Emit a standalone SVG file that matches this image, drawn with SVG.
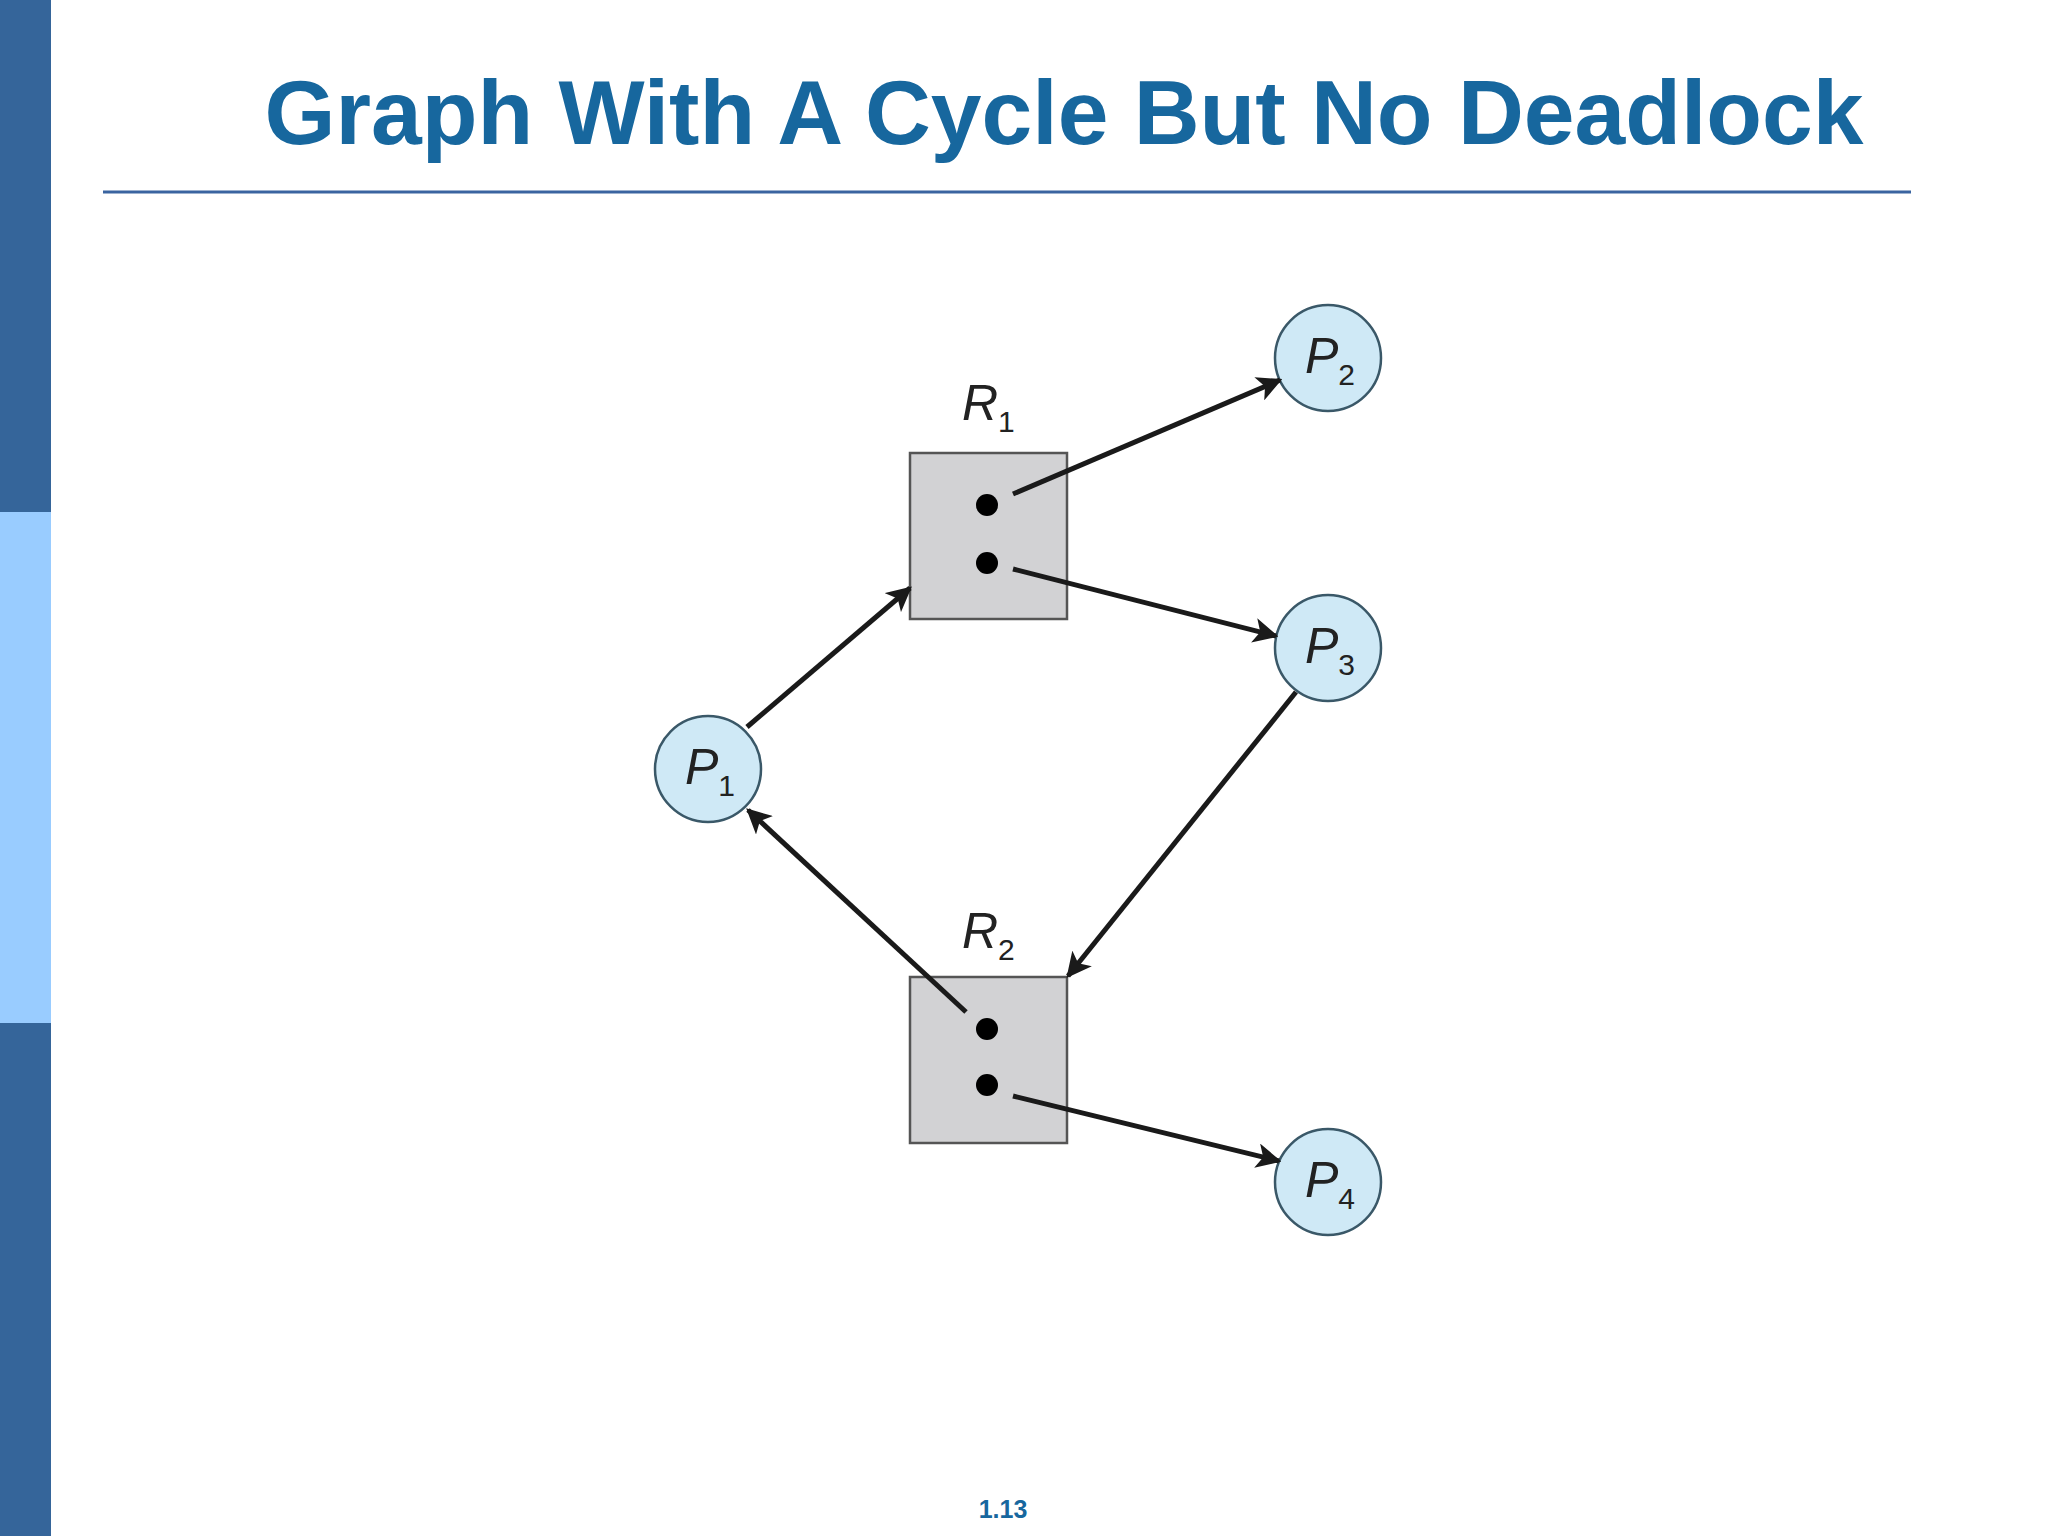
<svg xmlns="http://www.w3.org/2000/svg" width="2048" height="1536" viewBox="0 0 2048 1536">
<style>
.p{fill:#cfe9f6;stroke:#3a5868;stroke-width:2.5}
.r{fill:#d2d2d4;stroke:#555;stroke-width:2.5}
.lbl{font-family:"Liberation Sans",Arial,sans-serif;font-style:italic;font-size:50px;fill:#222}
.sub{font-size:30px;font-style:normal}
.e{stroke:#1a1a1a;stroke-width:5;fill:none;marker-end:url(#a)}
</style>
<defs><marker id="a" viewBox="0 0 10 10" refX="9" refY="5" markerWidth="5" markerHeight="5" orient="auto" markerUnits="strokeWidth"><path d="M0,0L10,5L0,10L2.5,5z" fill="#1a1a1a"/></marker></defs>
<rect width="2048" height="1536" fill="#fff"/>
<rect x="0" y="0" width="51" height="512" fill="#35659a"/>
<rect x="0" y="512" width="51" height="511" fill="#99ccff"/>
<rect x="0" y="1023" width="51" height="513" fill="#35659a"/>
<text x="1064" y="144" text-anchor="middle" font-family="Liberation Sans,Arial,sans-serif" font-weight="bold" font-size="90" textLength="1599" lengthAdjust="spacingAndGlyphs" fill="#17679e">Graph With A Cycle But No Deadlock</text>
<line x1="103" y1="192" x2="1911" y2="192" stroke="#3a64a0" stroke-width="3"/>
<g id="R1"><rect class="r" x="910" y="453" width="157" height="166"/><circle cx="987" cy="505" r="11"/><circle cx="987" cy="563" r="11"/><text class="lbl" x="962" y="420">R<tspan class="sub" dy="12">1</tspan></text></g>
<g id="R2"><rect class="r" x="910" y="977" width="157" height="166"/><circle cx="987" cy="1029" r="11"/><circle cx="987" cy="1085" r="11"/><text class="lbl" x="962" y="948">R<tspan class="sub" dy="12">2</tspan></text></g>
<g id="P1"><circle class="p" cx="708" cy="769" r="53"/><text class="lbl" x="685" y="784">P<tspan class="sub" dy="12">1</tspan></text></g>
<g id="P2"><circle class="p" cx="1328" cy="358" r="53"/><text class="lbl" x="1305" y="373">P<tspan class="sub" dy="12">2</tspan></text></g>
<g id="P3"><circle class="p" cx="1328" cy="648" r="53"/><text class="lbl" x="1305" y="663">P<tspan class="sub" dy="12">3</tspan></text></g>
<g id="P4"><circle class="p" cx="1328" cy="1182" r="53"/><text class="lbl" x="1305" y="1197">P<tspan class="sub" dy="12">4</tspan></text></g>
<g id="edges">
<line class="e" x1="1013" y1="494" x2="1280" y2="380"/>
<line class="e" x1="1013" y1="569" x2="1276" y2="636"/>
<line class="e" x1="747" y1="727" x2="910" y2="588"/>
<line class="e" x1="1296" y1="692" x2="1068" y2="976"/>
<line class="e" x1="966" y1="1012" x2="748" y2="810"/>
<line class="e" x1="1013" y1="1096" x2="1279" y2="1161"/>
</g>
<text x="1003" y="1518" text-anchor="middle" font-family="Liberation Sans,Arial,sans-serif" font-weight="bold" font-size="25" fill="#17679e">1.13</text>
</svg>
